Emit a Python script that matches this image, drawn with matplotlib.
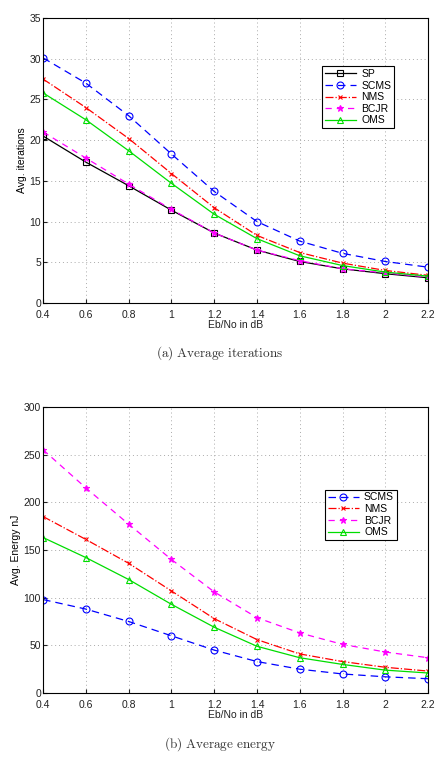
import matplotlib
matplotlib.use('Agg')
import matplotlib.pyplot as plt

ebno = [0.4, 0.6, 0.8, 1.0, 1.2, 1.4, 1.6, 1.8, 2.0, 2.2]

# average iterations
it_sp = [20.5, 17.3, 14.4, 11.4, 8.6, 6.5, 5.1, 4.2, 3.6, 3.1]
it_scms = [30.1, 27.0, 23.0, 18.3, 13.7, 10.0, 7.6, 6.1, 5.1, 4.4]
it_nms = [27.5, 24.0, 20.2, 15.9, 11.7, 8.3, 6.2, 4.9, 4.0, 3.4]
it_bcjr = [21.0, 17.8, 14.6, 11.5, 8.6, 6.5, 5.2, 4.2, 3.7, 3.2]
it_oms = [25.8, 22.5, 18.7, 14.7, 10.9, 7.9, 5.8, 4.6, 3.8, 3.3]

# average energy (nJ)
en_scms = [98, 88, 75, 60, 45, 33, 25, 20, 17, 15]
en_nms = [185, 161, 136, 107, 78, 56, 41, 33, 27, 23]
en_bcjr = [255, 215, 177, 140, 106, 79, 63, 51, 43, 37]
en_oms = [163, 142, 119, 93, 69, 49, 37, 30, 24, 21]

xticks = [0.4, 0.6, 0.8, 1, 1.2, 1.4, 1.6, 1.8, 2, 2.2]
xticklabels = ['0.4', '0.6', '0.8', '1', '1.2', '1.4', '1.6', '1.8', '2', '2.2']

plt.rcParams['font.family'] = 'Liberation Sans'
plt.rcParams['mathtext.fontset'] = 'cm'

styles = {
    'SP': dict(color='black', linestyle='-', marker='s', markersize=4.5),
    'SCMS': dict(color='blue', linestyle=(0, (6, 4)), marker='o', markersize=5),
    'NMS': dict(color='red', linestyle='-.', marker='x', markersize=3.5),
    'BCJR': dict(color='magenta', linestyle=(0, (5, 4)), marker='*', markersize=5),
    'OMS': dict(color='#00dd00', linestyle='-', marker='^', markersize=5),
}

fig = plt.figure(figsize=(4.4, 7.57), dpi=100)
ax1 = fig.add_axes([0.098, 0.5997, 0.875, 0.3765])
ax2 = fig.add_axes([0.098, 0.0845, 0.875, 0.378])


def draw(ax, name, y):
    st = dict(markerfacecolor='none', linewidth=0.9, markeredgewidth=0.8)
    st.update(styles[name])
    if name == 'BCJR':
        st['markerfacecolor'] = 'magenta'
    ax.plot(ebno, y, label=name, **st)


draw(ax1, 'SP', it_sp)
draw(ax1, 'SCMS', it_scms)
draw(ax1, 'NMS', it_nms)
draw(ax1, 'BCJR', it_bcjr)
draw(ax1, 'OMS', it_oms)
ax1.set_ylim(0, 35)
ax1.set_yticks(range(0, 36, 5))
ax1.set_ylabel('Avg. iterations', fontsize=7.5, labelpad=2)

draw(ax2, 'SCMS', en_scms)
draw(ax2, 'NMS', en_nms)
draw(ax2, 'BCJR', en_bcjr)
draw(ax2, 'OMS', en_oms)
ax2.set_ylim(0, 300)
ax2.set_yticks(range(0, 301, 50))
ax2.set_ylabel('Avg. Energy nJ', fontsize=7.5, labelpad=2)

for ax in (ax1, ax2):
    ax.set_xlim(0.4, 2.2)
    ax.set_xticks(xticks)
    ax.set_xticklabels(xticklabels)
    ax.tick_params(labelsize=7.5, direction='in', length=3, colors='#222222')
    ax.tick_params(axis='x', pad=5)
    ax.tick_params(axis='y', pad=1.5)
    ax.set_xlabel('Eb/No in dB', fontsize=7.5, labelpad=0, color='#222222')
    ax.grid(True, linestyle=(0, (1, 3)), color='#aaaaaa', linewidth=0.7)
    for s in ax.spines.values():
        s.set_linewidth(0.8)

leg1 = ax1.legend(loc='upper left', bbox_to_anchor=(0.725, 0.83), fontsize=7.5,
                  fancybox=False, edgecolor='black', framealpha=1,
                  handlelength=3, borderpad=0.25, labelspacing=0.15,
                  handletextpad=0.5, borderaxespad=0)
leg1.get_frame().set_linewidth(0.8)
leg2 = ax2.legend(loc='upper left', bbox_to_anchor=(0.732, 0.71), fontsize=7.5,
                  fancybox=False, edgecolor='black', framealpha=1,
                  handlelength=3, borderpad=0.25, labelspacing=0.15,
                  handletextpad=0.5, borderaxespad=0)
leg2.get_frame().set_linewidth(0.8)

fig.text(0.5, 1 - 353 / 757, r'$\mathrm{(a)\ Average\ iterations}$',
         ha='center', va='center', fontsize=9.5, color='#333333')
fig.text(0.5, 1 - 744 / 757, r'$\mathrm{(b)\ Average\ energy}$',
         ha='center', va='center', fontsize=9.5, color='#333333')

fig.savefig('out.png', dpi=100)
